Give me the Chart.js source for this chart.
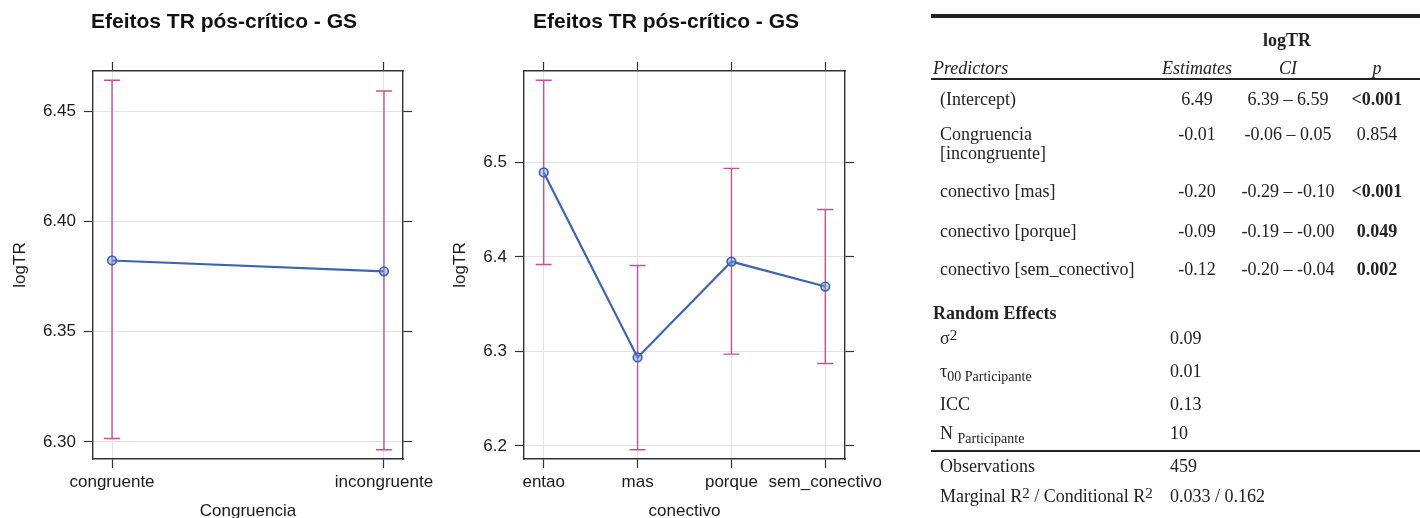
<!DOCTYPE html>
<html lang="pt">
<head>
<meta charset="utf-8">
<title>Efeitos TR pós-crítico - GS</title>
<script src="https://cdn.jsdelivr.net/npm/chart.js@4.4.1/dist/chart.umd.min.js"></script>
<style>
  html, body { margin: 0; padding: 0; background: #fff; }
  body { width: 1420px; height: 518px; overflow: hidden; position: relative; }
  canvas { position: absolute; top: 0; }
  #grafCongruencia { left: 0; }
  #grafConectivo { left: 448px; }
  #tabela { position: absolute; left: 0; top: 0; width: 1420px; height: 518px;
    font-family: "Liberation Serif", "Times New Roman", serif; font-size: 18px; color: #222; }
  .cel { position: absolute; white-space: nowrap; line-height: 20px; }
  .centro { transform: translateX(-50%); }
  .neg { font-weight: bold; }
  .ital { font-style: italic; }
  .regra { position: absolute; left: 931px; width: 489px; background: #222; }
  sup { font-size: 15px; vertical-align: 4px; line-height: 0; }
  sub { font-size: 14px; vertical-align: -4px; line-height: 0; }
</style>
</head>
<body>
<canvas id="grafCongruencia" width="448" height="530"></canvas>
<canvas id="grafConectivo" width="436" height="530"></canvas>
<div id="tabela"></div>
<script>
// Efeitos marginais (logTR) com IC 95%
const congruenciaNiveis = ["congruente", "incongruente"];
const congruenciaAjuste = [6.3823, 6.3774];
const congruenciaInferior = [6.3015, 6.2964];
const congruenciaSuperior = [6.4641, 6.4592];
const congruenciaTicks = ["6.30", "6.35", "6.40", "6.45"];

const conectivoNiveis = ["entao", "mas", "porque", "sem_conectivo"];
const conectivoAjuste = [6.4894, 6.2937, 6.3951, 6.3687];
const conectivoInferior = [6.392, 6.196, 6.2972, 6.2873];
const conectivoSuperior = [6.587, 6.391, 6.4937, 6.4503];
const conectivoTicks = ["6.2", "6.3", "6.4", "6.5"];

// Tabela do modelo misto
const preditores = [["(Intercept)"], ["Congruencia", "[incongruente]"], ["conectivo [mas]"],
  ["conectivo [porque]"], ["conectivo [sem_conectivo]"]];
const estimativas = ["6.49", "-0.01", "-0.20", "-0.09", "-0.12"];
const icInferior = ["6.39", "-0.06", "-0.29", "-0.19", "-0.20"];
const icSuperior = ["6.59", "0.05", "-0.10", "-0.00", "-0.04"];
const valoresP = ["<0.001", "0.854", "<0.001", "0.049", "0.002"];
const aleatRotulos = ["σ<sup>2</sup>", "τ<sub>00 Participante</sub>", "ICC", "N <sub>Participante</sub>"];
const aleatValores = ["0.09", "0.01", "0.13", "10"];
const observacoes = "459";
const r2Marginal = "0.033";
const r2Condicional = "0.162";

const FONTE = "'Liberation Sans', Arial, Helvetica, sans-serif";
const COR_TEXTO = "#1a1a1a";
const COR_LINHA = "#3d64b3";
const COR_IC = "#c4509a";

// barras de erro desenhadas pelas escalas do próprio gráfico
const barrasErro = {
  id: "barrasErro",
  beforeDatasetsDraw(chart, args, opts) {
    const { ctx, scales: { x, y } } = chart;
    const cap = 8;
    ctx.save();
    ctx.strokeStyle = opts.cor;
    ctx.lineWidth = 1.4;
    opts.inferior.forEach((lo, i) => {
      const px = x.getPixelForValue(i);
      const topo = y.getPixelForValue(opts.superior[i]);
      const base = y.getPixelForValue(lo);
      ctx.beginPath();
      ctx.moveTo(px, topo);
      ctx.lineTo(px, base);
      ctx.moveTo(px - cap, topo);
      ctx.lineTo(px + cap, topo);
      ctx.moveTo(px - cap, base);
      ctx.lineTo(px + cap, base);
      ctx.stroke();
    });
    ctx.restore();
  },
};

function graficoEfeito(canvasId, niveis, ajuste, inferior, superior, ticksY, tituloX, larguras) {
  const lo = Math.min(...inferior);
  const hi = Math.max(...superior);
  const padY = (hi - lo) * 0.025;
  const padX = (niveis.length - 1) * 0.07;
  const fonteTick = { family: FONTE, size: 17 };
  const grade = { color: "#e4e4e4", lineWidth: 1, tickColor: "#333", tickLength: 9, tickWidth: 1.2 };
  const borda = { display: true, color: "#333", width: 1.4 };
  const marcasX = (s) => { s.ticks = niveis.map((_, i) => ({ value: i })); };
  const marcasY = (s) => { s.ticks = ticksY.map((t) => ({ value: Number(t) })); };
  // rótulos longos não devem encolher a área do gráfico
  const semFolga = (s) => { s.paddingLeft = 0; s.paddingRight = 0; };

  return new Chart(document.getElementById(canvasId), {
    type: "line",
    data: {
      datasets: [{
        data: niveis.map((_, i) => ({ x: i, y: ajuste[i] })),
        borderColor: COR_LINHA,
        borderWidth: 2.2,
        pointRadius: 4.3,
        pointBorderWidth: 1.7,
        pointBorderColor: COR_LINHA,
        pointBackgroundColor: "rgba(120,155,215,0.45)",
        tension: 0,
        xAxisID: "x",
        yAxisID: "y",
      }],
    },
    options: {
      responsive: false,
      animation: false,
      layout: { padding: 0 },
      plugins: {
        legend: { display: false },
        tooltip: { enabled: false },
        title: {
          display: true,
          text: "Efeitos TR pós-crítico - GS",
          color: "#111",
          font: { family: FONTE, size: 21, weight: "bold" },
          padding: { top: 9.4, bottom: 10 },
        },
        barrasErro: { cor: COR_IC, inferior, superior },
      },
      scales: {
        x: {
          type: "linear", position: "bottom",
          min: -padX, max: niveis.length - 1 + padX,
          afterBuildTicks: marcasX,
          ticks: { callback: (v) => niveis[v], font: fonteTick, color: COR_TEXTO, padding: 4, maxRotation: 0, autoSkip: false },
          grid: grade, border: borda,
          title: { display: true, text: tituloX, font: fonteTick, color: COR_TEXTO, padding: { top: 0, bottom: 8 } },
          afterFit: (s) => { s.height = 71; semFolga(s); },
        },
        x2: {
          type: "linear", position: "top",
          min: -padX, max: niveis.length - 1 + padX,
          afterBuildTicks: marcasX,
          ticks: { display: false },
          grid: { ...grade, drawOnChartArea: false }, border: borda,
          afterFit: (s) => { s.height = 26.4; semFolga(s); },
        },
        y: {
          type: "linear", position: "left",
          min: lo - padY, max: hi + padY,
          afterBuildTicks: marcasY,
          ticks: { callback: (v) => ticksY.find((t) => Number(t) === v), font: fonteTick, color: COR_TEXTO, padding: 8 },
          grid: grade, border: borda,
          title: { display: true, text: "logTR", font: fonteTick, color: COR_TEXTO, padding: { top: larguras.tituloY, bottom: 0 } },
          afterFit: (s) => { s.width = larguras.esq; },
        },
        y2: {
          type: "linear", position: "right",
          min: lo - padY, max: hi + padY,
          afterBuildTicks: marcasY,
          ticks: { display: false },
          grid: { ...grade, drawOnChartArea: false }, border: borda,
          afterFit: (s) => { s.width = larguras.dir; },
        },
      },
    },
    plugins: [barrasErro],
  });
}

graficoEfeito("grafCongruencia", congruenciaNiveis, congruenciaAjuste, congruenciaInferior,
  congruenciaSuperior, congruenciaTicks, "Congruencia", { esq: 93, dir: 45, tituloY: 10.5 });
graficoEfeito("grafConectivo", conectivoNiveis, conectivoAjuste, conectivoInferior,
  conectivoSuperior, conectivoTicks, "conectivo", { esq: 76, dir: 39, tituloY: 2 });

// tabela
const tabela = document.getElementById("tabela");
const COL = { cab: 933, rot: 940, est: 1197, ic: 1288, p: 1377, aleat: 1170 };

function celula(html, x, cy, centro, classe) {
  const el = document.createElement("div");
  el.className = "cel" + (centro ? " centro" : "") + (classe ? " " + classe : "");
  el.innerHTML = html;
  el.style.left = x + "px";
  el.style.top = (cy - 10) + "px";
  tabela.appendChild(el);
}

function regra(top, altura) {
  const el = document.createElement("div");
  el.className = "regra";
  el.style.top = top + "px";
  el.style.height = altura + "px";
  tabela.appendChild(el);
}

regra(14, 4);
celula("logTR", 1287, 40, true, "neg");
celula("Predictors", COL.cab, 68, false, "ital");
celula("Estimates", COL.est, 68, true, "ital");
celula("CI", COL.ic, 68, true, "ital");
celula("p", COL.p, 68, true, "ital");
regra(78, 2);

const linhasPred = [99, 134, 191, 231, 269];
preditores.forEach((linhas, i) => {
  const cy = linhasPred[i];
  linhas.forEach((txt, k) => celula(txt, COL.rot, cy + k * 19, false));
  celula(estimativas[i], COL.est, cy, true);
  celula(icInferior[i] + " – " + icSuperior[i], COL.ic, cy, true);
  const p = parseFloat(valoresP[i].replace("<", ""));
  celula(valoresP[i].replace("<", "&lt;"), COL.p, cy, true, p < 0.05 ? "neg" : "");
});

celula("Random Effects", COL.cab, 313, false, "neg");
const linhasAleat = [338, 371, 404, 433];
aleatRotulos.forEach((rot, i) => {
  celula(rot, COL.rot, linhasAleat[i], false);
  celula(aleatValores[i], COL.aleat, linhasAleat[i], false);
});
regra(450, 2);
celula("Observations", COL.rot, 466, false);
celula(observacoes, COL.aleat, 466, false);
celula("Marginal R<sup>2</sup> / Conditional R<sup>2</sup>", COL.rot, 496, false);
celula(r2Marginal + " / " + r2Condicional, COL.aleat, 496, false);
</script>
</body>
</html>
